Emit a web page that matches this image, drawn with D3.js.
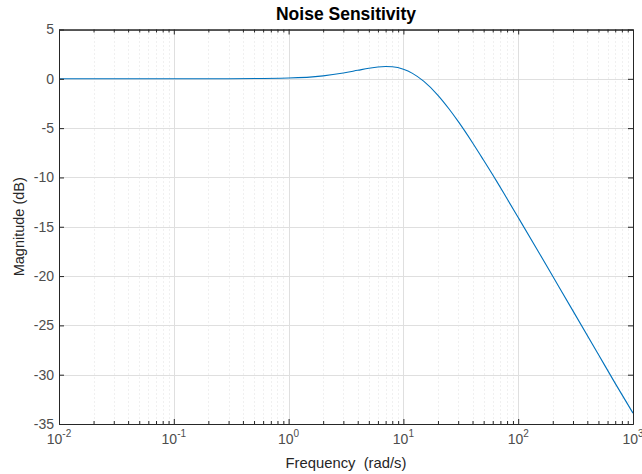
<!DOCTYPE html>
<html>
<head>
<meta charset="utf-8">
<script src="https://cdn.jsdelivr.net/npm/d3@7"></script>
<style>
  html, body { margin: 0; padding: 0; background: #fff; }
  svg { display: block; font-family: "Liberation Sans", Arial, Helvetica, sans-serif; }
</style>
</head>
<body>
<svg id="chart" width="642" height="474"></svg>
<script>
// Data
const frequency = [0.01, 0.1, 0.3, 1, 2, 3, 4, 5, 6, 7, 8, 10, 12, 15, 20, 25, 30, 40, 50, 65, 80, 100, 150, 200, 300, 500, 700, 1000];
const magnitudeDb = [0.00, 0.00, 0.01, 0.08, 0.30, 0.59, 0.86, 1.07, 1.20, 1.25, 1.22, 0.97, 0.55, -0.24, -1.67, -3.06, -4.32, -6.48, -8.26, -10.4, -12.16, -14.06, -17.53, -20.02, -23.53, -27.96, -30.88, -33.9];
const xTickValues = [0.01, 0.1, 1, 10, 100, 1000];
const xTickExponents = ["-2", "-1", "0", "1", "2", "3"];
const yTickValues = [5, 0, -5, -10, -15, -20, -25, -30, -35];
const titleText = "Noise Sensitivity";
const xLabelText = "Frequency  (rad/s)";
const yLabelText = "Magnitude (dB)";

(function () {
const margin = { left: 59, right: 9, top: 29.5, bottom: 50 };
const W = 642, H = 474;
const svg = d3.select("#chart");
const x = d3.scaleLog().domain([0.01, 1000]).range([margin.left, W - margin.right]);
const y = d3.scaleLinear().domain([-35, 5]).range([H - margin.bottom, margin.top]);

const axisColor = "#262626";
const tickTextColor = "#4d4d4d";
const majorGrid = "#dfdfdf";
const minorGrid = "#e0e0e0";

const minorX = [];
for (let e = -2; e < 3; e++) for (let k = 2; k <= 9; k++) minorX.push(k * Math.pow(10, e));

const g = svg.append("g");
g.selectAll(".mgx").data(minorX).join("line")
  .attr("x1", d => Math.round(x(d)) + 0.5).attr("x2", d => Math.round(x(d)) + 0.5)
  .attr("y1", y(5)).attr("y2", y(-35))
  .attr("stroke", minorGrid).attr("stroke-width", 1).attr("stroke-dasharray", "1,3");
g.selectAll(".gx").data(xTickValues).join("line")
  .attr("x1", d => Math.round(x(d)) + 0.5).attr("x2", d => Math.round(x(d)) + 0.5)
  .attr("y1", y(5)).attr("y2", y(-35))
  .attr("stroke", majorGrid).attr("stroke-width", 1);
g.selectAll(".gy").data(yTickValues).join("line")
  .attr("y1", d => Math.round(y(d)) + 0.5).attr("y2", d => Math.round(y(d)) + 0.5)
  .attr("x1", x(0.01)).attr("x2", x(1000))
  .attr("stroke", majorGrid).attr("stroke-width", 1);

const pts = frequency.map((f, i) => [f, magnitudeDb[i]]);
svg.append("path").datum(pts)
  .attr("fill", "none").attr("stroke", "#0072BD").attr("stroke-width", 1.1)
  .attr("d", d3.line().x(d => x(d[0])).y(d => y(d[1])).curve(d3.curveMonotoneX));

function styleAxis(sel) {
  sel.selectAll("path.domain").attr("stroke", axisColor);
  sel.selectAll(".tick line").attr("stroke", axisColor);
}
const axBottom = svg.append("g").attr("transform", `translate(0,${y(-35)})`)
  .call(d3.axisBottom(x).tickValues(xTickValues).tickSize(-5).tickSizeOuter(0).tickFormat(""));
styleAxis(axBottom);
const axBottomMinor = svg.append("g").attr("transform", `translate(0,${y(-35)})`)
  .call(d3.axisBottom(x).tickValues(minorX).tickSize(-3).tickSizeOuter(0).tickFormat(""));
styleAxis(axBottomMinor);
const axTop = svg.append("g").attr("transform", `translate(0,${y(5)})`)
  .call(d3.axisTop(x).tickValues(xTickValues).tickSize(-5).tickSizeOuter(0).tickFormat(""));
styleAxis(axTop);
const axTopMinor = svg.append("g").attr("transform", `translate(0,${y(5)})`)
  .call(d3.axisTop(x).tickValues(minorX).tickSize(-3).tickSizeOuter(0).tickFormat(""));
styleAxis(axTopMinor);
const axLeft = svg.append("g").attr("transform", `translate(${x(0.01)},0)`)
  .call(d3.axisLeft(y).tickValues(yTickValues).tickSize(-5).tickSizeOuter(0).tickFormat(""));
styleAxis(axLeft);
const axRight = svg.append("g").attr("transform", `translate(${x(1000)},0)`)
  .call(d3.axisRight(y).tickValues(yTickValues).tickSize(-5).tickSizeOuter(0).tickFormat(""));
styleAxis(axRight);

svg.selectAll(".ylab").data(yTickValues).join("text")
  .attr("x", x(0.01) - 5).attr("y", d => y(d)).attr("dy", "0.35em")
  .attr("text-anchor", "end").attr("font-size", 14).attr("fill", tickTextColor)
  .text(d => String(d));

const xl = svg.selectAll(".xlab").data(xTickValues).join("text")
  .attr("x", d => x(d)).attr("y", y(-35) + 20)
  .attr("text-anchor", "middle").attr("font-size", 14).attr("fill", tickTextColor);
xl.append("tspan").text("10");
xl.append("tspan").attr("dy", -7).attr("font-size", 10).text((d, i) => xTickExponents[i]);

svg.append("text").attr("x", (x(0.01) + x(1000)) / 2).attr("y", 468)
  .attr("text-anchor", "middle").attr("font-size", 14.8).attr("fill", axisColor)
  .style("white-space", "pre").text(xLabelText);
svg.append("text").attr("transform", `translate(24,${(y(5) + y(-35)) / 2}) rotate(-90)`)
  .attr("text-anchor", "middle").attr("font-size", 14.5).attr("fill", axisColor).text(yLabelText);
svg.append("text").attr("x", (x(0.01) + x(1000)) / 2).attr("y", 20)
  .attr("text-anchor", "middle").attr("font-size", 17.5).attr("font-weight", "bold").attr("fill", "#000").text(titleText);
})();
</script>
</body>
</html>
